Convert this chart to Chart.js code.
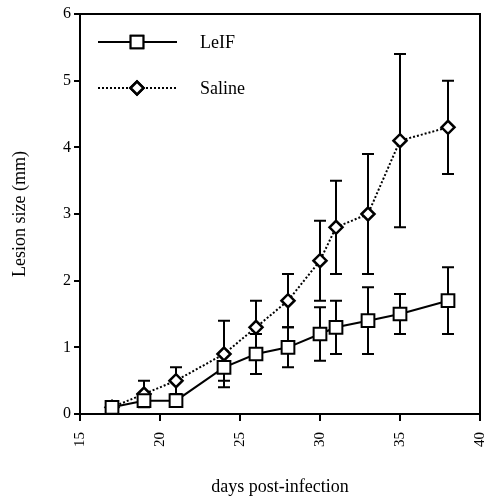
<!DOCTYPE html>
<html><head><meta charset="utf-8">
<script src="https://cdn.jsdelivr.net/npm/chart.js@4/dist/chart.umd.min.js"></script>
<style>html,body{margin:0;padding:0;background:#fff}#wrap{width:485px;height:498px}</style>
</head><body><div id="wrap"><canvas id="c" width="485" height="498"></canvas></div>
<script>
const days = [17, 19, 21, 24, 26, 28, 30, 31, 33, 35, 38];
const leifMean = [0.1, 0.2, 0.2, 0.7, 0.9, 1.0, 1.2, 1.3, 1.4, 1.5, 1.7];
const leifErr  = [0, 0, 0, 0.2, 0.3, 0.3, 0.4, 0.4, 0.5, 0.3, 0.5];
const salineMean = [0.1, 0.3, 0.5, 0.9, 1.3, 1.7, 2.3, 2.8, 3.0, 4.1, 4.3];
const salineErr  = [0, 0.2, 0.2, 0.5, 0.4, 0.4, 0.6, 0.7, 0.9, 1.3, 0.7];
const seriesNames = ['LeIF', 'Saline'];
const xTicks = [15, 20, 25, 30, 35, 40];
const yTicks = [0, 1, 2, 3, 4, 5, 6];

const SERIF = "'Liberation Serif', 'Times New Roman', serif";
const toPts = (xs, ys) => xs.map((x, i) => ({x: x, y: ys[i]}));

const errorBars = {
  id: 'errorBars',
  beforeDatasetsDraw(chart) {
    const {ctx, scales: {x, y}} = chart;
    const sets = [[leifMean, leifErr], [salineMean, salineErr]];
    ctx.save();
    ctx.strokeStyle = '#000';
    ctx.lineWidth = 2;
    ctx.setLineDash([]);
    sets.forEach(([m, e]) => {
      days.forEach((d, i) => {
        if (!e[i]) return;
        const px = x.getPixelForValue(d);
        const hi = y.getPixelForValue(m[i] + e[i]);
        const lo = y.getPixelForValue(m[i] - e[i]);
        ctx.beginPath();
        ctx.moveTo(px, hi); ctx.lineTo(px, lo);
        ctx.moveTo(px - 6, hi); ctx.lineTo(px + 6, hi);
        ctx.moveTo(px - 6, lo); ctx.lineTo(px + 6, lo);
        ctx.stroke();
      });
    });
    ctx.restore();
  }
};

const frameAndLegend = {
  id: 'frameAndLegend',
  afterDraw(chart) {
    const {ctx, chartArea: a} = chart;
    ctx.save();
    ctx.strokeStyle = '#000';
    ctx.lineWidth = 2;
    ctx.beginPath();
    ctx.moveTo(a.left, a.bottom); ctx.lineTo(a.left, a.top); ctx.lineTo(a.right, a.top);
    ctx.lineTo(a.right, a.bottom);
    ctx.stroke();
    // legend
    const rows = [
      {y: 42, dash: [], lw: 2, style: 'rect', r: 9, bw: 2},
      {y: 88, dash: [2, 2], lw: 2, style: 'rectRot', r: 6.5, bw: 2.5}
    ];
    rows.forEach((r, i) => {
      ctx.setLineDash(r.dash);
      ctx.lineWidth = r.lw;
      ctx.beginPath();
      ctx.moveTo(98, r.y); ctx.lineTo(177, r.y);
      ctx.stroke();
      ctx.setLineDash([]);
      ctx.fillStyle = '#fff';
      ctx.lineWidth = r.bw;
      Chart.helpers.drawPoint(ctx, {pointStyle: r.style, radius: r.r, borderWidth: r.bw}, 137, r.y);
      ctx.fill();
      ctx.stroke();
      ctx.fillStyle = '#000';
      ctx.font = '18px ' + SERIF;
      ctx.textBaseline = 'middle';
      ctx.textAlign = 'left';
      ctx.fillText(seriesNames[i], 200, r.y + 1);
    });
    ctx.restore();
  }
};

new Chart(document.getElementById('c'), {
  type: 'line',
  data: {
    datasets: [
      {
        label: seriesNames[0],
        data: toPts(days, leifMean),
        borderColor: '#000', borderWidth: 2,
        pointStyle: 'rect', pointRadius: 9, pointBorderWidth: 2,
        pointBackgroundColor: '#fff', pointBorderColor: '#000',
        tension: 0
      },
      {
        label: seriesNames[1],
        data: toPts(days, salineMean),
        borderColor: '#000', borderWidth: 2, borderDash: [2, 2],
        pointStyle: 'rectRot', pointRadius: 6.5, pointBorderWidth: 2.5,
        pointBackgroundColor: '#fff', pointBorderColor: '#000',
        tension: 0
      }
    ]
  },
  options: {
    responsive: false,
    animation: false,
    devicePixelRatio: 1,
    layout: {autoPadding: false, padding: {top: 14, right: 5, left: 0, bottom: 0}},
    plugins: {legend: {display: false}, tooltip: {enabled: false}},
    scales: {
      x: {
        type: 'linear', min: 15, max: 40,
        afterBuildTicks(s) { s.ticks = xTicks.map(v => ({value: v})); },
        afterFit(s) { s.height = 84; s.paddingLeft = 0; s.paddingRight = 0; },
        border: {display: true, color: '#000', width: 2},
        grid: {display: true, drawOnChartArea: false, color: '#000', lineWidth: 2, tickLength: 7},
        ticks: {color: '#000', font: {family: SERIF, size: 15}, minRotation: 90, maxRotation: 90, padding: 11},
        title: {display: true, text: 'days post-infection', color: '#000', padding: 0, font: {family: SERIF, size: 18, lineHeight: 1.2}}
      },
      y: {
        type: 'linear', min: 0, max: 6,
        afterBuildTicks(s) { s.ticks = yTicks.map(v => ({value: v})); },
        afterFit(s) { s.width = 80; s.paddingTop = 0; s.paddingBottom = 0; },
        border: {display: true, color: '#000', width: 2},
        grid: {display: true, drawOnChartArea: false, color: '#000', lineWidth: 2, tickLength: 6},
        ticks: {color: '#000', font: {family: SERIF, size: 16}, padding: 3},
        title: {display: true, text: 'Lesion size (mm)', color: '#000', padding: 0, font: {family: SERIF, size: 18, lineHeight: 2.2}}
      }
    }
  },
  plugins: [errorBars, frameAndLegend]
});
</script>
</body></html>
